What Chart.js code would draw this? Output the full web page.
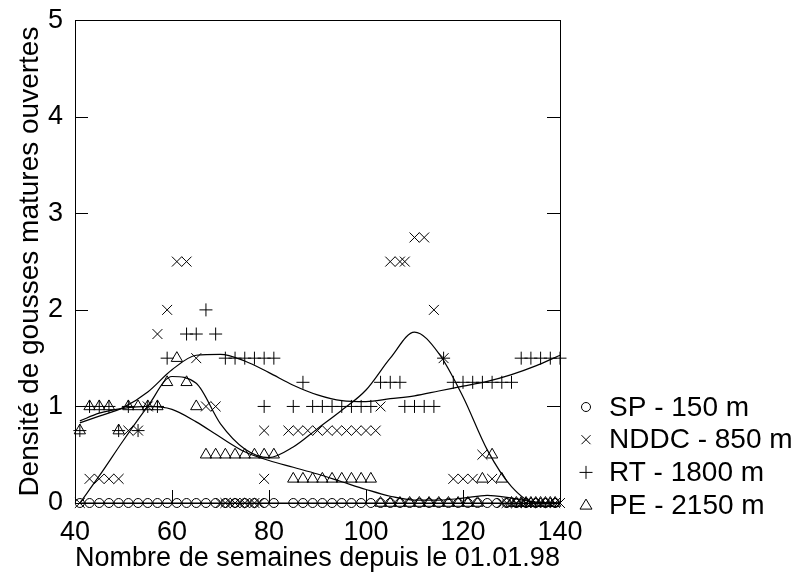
<!DOCTYPE html>
<html>
<head>
<meta charset="utf-8">
<script src="https://cdn.jsdelivr.net/npm/chart.js@4.4.1/dist/chart.umd.min.js"></script>
<style>
  html, body { margin: 0; padding: 0; background: #fff; }
  #wrap { width: 807px; height: 582px; }
</style>
</head>
<body>
<div id="wrap"><canvas id="chart" width="807" height="582"></canvas></div>
<script>
// observations (semaine, densité)
const spWeeks = [41, 43, 45, 47, 49, 51, 53, 55, 57, 59, 61, 63, 65, 67, 69, 71, 73, 75, 77, 79, 81,
  85, 87, 89, 91, 93, 95, 97, 99, 101, 103, 105, 107, 109, 111, 113, 115, 117, 119, 121, 123, 125,
  127, 129, 131, 133, 135, 137, 139];
const spValues = [0, 0, 0, 0, 0, 0, 0, 0, 0, 0, 0, 0, 0, 0, 0, 0, 0, 0, 0, 0, 0,
  0, 0, 0, 0, 0, 0, 0, 0, 0, 0, 0, 0, 0, 0, 0, 0, 0, 0, 0, 0, 0,
  0, 0, 0, 0, 0, 0, 0];

const nddcWeeks = [41, 43, 45, 47, 49, 51, 53, 55, 57, 59, 61, 63, 65, 67, 69,
  70, 71, 72, 73, 74, 75, 76, 77, 78, 79, 79,
  84, 86, 88, 90, 92, 94, 96, 98, 100, 102, 103, 105, 107, 108, 110, 112, 114, 116,
  118, 120, 122, 124, 126, 128, 129, 130, 131, 132, 133, 134, 135, 136, 137, 138, 139, 140];
const nddcValues = [0, 0.25, 0.25, 0.25, 0.25, 0.75, 0.75, 1, 1.75, 2, 2.5, 2.5, 1.5, 1, 1,
  0, 0, 0, 0, 0, 0, 0, 0, 0, 0.75, 0.25,
  0.75, 0.75, 0.75, 0.75, 0.75, 0.75, 0.75, 0.75, 0.75, 0.75, 1, 2.5, 2.5, 2.5, 2.75, 2.75, 2, 1.5,
  0.25, 0.25, 0.25, 0.5, 0.25, 0, 0, 0, 0, 0, 0, 0, 0, 0, 0, 0, 0, 0];

const rtWeeks = [41, 43, 45, 47, 49, 51, 53, 55, 57, 59, 63, 65, 67, 69,
  71, 73, 75, 77, 79, 81, 79, 85, 87, 89, 91, 93, 95, 97, 99, 101,
  103, 105, 107, 108, 110, 112, 114, 116,
  118, 120, 122, 124, 126, 128, 130, 132, 134, 136, 138, 140];
const rtValues = [0.75, 1, 1, 1, 0.75, 1, 0.75, 1, 1, 1.5, 1.75, 1.75, 2, 1.75,
  1.5, 1.5, 1.5, 1.5, 1.5, 1.5, 1, 1, 1.25, 1, 1, 1, 1, 1, 1, 1,
  1.25, 1.25, 1.25, 1, 1, 1, 1, 1.5,
  1.25, 1.25, 1.25, 1.25, 1.25, 1.25, 1.25, 1.5, 1.5, 1.5, 1.5, 1.5];

const peWeeks = [41, 43, 45, 47, 49, 51, 53, 55, 57, 59, 61, 63, 65,
  67, 69, 71, 73, 75, 77, 79, 81,
  85, 87, 89, 91, 93, 95, 97, 99, 101,
  103, 105, 107, 109, 111, 113, 115, 117, 119, 121, 123, 124, 126, 128,
  130, 131, 132, 133, 134, 135, 136, 137, 138, 139];
const peValues = [0.75, 1, 1, 1, 0.75, 1, 1, 1, 1, 1.25, 1.5, 1.25, 1,
  0.5, 0.5, 0.5, 0.5, 0.5, 0.5, 0.5, 0.5,
  0.25, 0.25, 0.25, 0.25, 0.25, 0.25, 0.25, 0.25, 0.25,
  0, 0, 0, 0, 0, 0, 0, 0, 0, 0, 0, 0.25, 0.5, 0.25,
  0, 0, 0, 0, 0, 0, 0, 0, 0, 0];

// courbes lissées
const fitWeeks = [41, 45, 50, 55, 60, 65, 70, 75, 80, 85, 90, 95, 100, 105, 110, 115, 120, 125, 130, 135, 140];
const spFit   = [0, 0, 0, 0, 0, 0, 0, 0, 0, 0, 0, 0, 0, 0, 0, 0, 0, 0, 0, 0, 0];
const nddcFit = [0, 0.28, 0.65, 1.0, 1.31, 1.24, 0.82, 0.56, 0.47, 0.58, 0.77, 0.96, 1.17, 1.5, 1.77, 1.55, 1.1, 0.55, 0.17, 0, 0];
const rtFit   = [0.83, 0.9, 0.99, 1.15, 1.38, 1.53, 1.54, 1.47, 1.35, 1.22, 1.12, 1.06, 1.05, 1.08, 1.11, 1.16, 1.21, 1.26, 1.33, 1.42, 1.53];
const peFit   = [0.85, 0.93, 0.98, 1.0, 0.97, 0.84, 0.68, 0.53, 0.44, 0.37, 0.3, 0.22, 0.14, 0.07, 0.03, 0.03, 0.05, 0.08, 0.05, 0.01, 0];

const legendLabels = ['SP - 150 m', 'NDDC - 850 m', 'RT - 1800 m', 'PE - 2150 m'];

const FONT = '"Liberation Sans", Arial, Helvetica, sans-serif';

function pts(weeks, values) {
  return weeks.map((w, i) => ({ x: w, y: values[i] }));
}

function markerSet(label, weeks, values, style, radius) {
  return {
    label: label,
    data: pts(weeks, values),
    showLine: false,
    pointStyle: style,
    pointRadius: radius,
    pointBorderColor: '#000',
    pointBackgroundColor: 'rgba(0,0,0,0)',
    pointBorderWidth: 1,
    clip: false
  };
}

function fitSet(values) {
  return {
    label: '',
    data: pts(fitWeeks, values),
    showLine: true,
    pointRadius: 0,
    borderColor: '#000',
    borderWidth: 1.2,
    cubicInterpolationMode: 'monotone',
    clip: false
  };
}

// cadre + graduations intérieures
const framePlugin = {
  id: 'frame',
  afterDraw(chart) {
    const { ctx, chartArea: a, scales } = chart;
    ctx.save();
    ctx.strokeStyle = '#000';
    ctx.lineWidth = 1;
    ctx.strokeRect(Math.round(a.left) + 0.5, Math.round(a.top) + 0.5,
      Math.round(a.right - a.left), Math.round(a.bottom - a.top));
    const len = 13;
    ctx.beginPath();
    scales.y.ticks.forEach(t => {
      const y = Math.round(scales.y.getPixelForValue(t.value)) + 0.5;
      ctx.moveTo(a.left, y); ctx.lineTo(a.left + len, y);
      ctx.moveTo(a.right, y); ctx.lineTo(a.right - len, y);
    });
    scales.x.ticks.forEach(t => {
      const x = Math.round(scales.x.getPixelForValue(t.value)) + 0.5;
      ctx.moveTo(x, a.bottom); ctx.lineTo(x, a.bottom - len);
    });
    ctx.stroke();
    ctx.restore();
  }
};

// légende à droite
const legendPlugin = {
  id: 'sideLegend',
  afterDraw(chart) {
    const { ctx } = chart;
    const x0 = 586, tx = 609, y0 = 407, step = 32.7;
    ctx.save();
    ctx.strokeStyle = '#000';
    ctx.fillStyle = '#000';
    ctx.lineWidth = 1;
    ctx.font = '28px ' + FONT;
    ctx.textBaseline = 'middle';
    ctx.textAlign = 'left';
    legendLabels.forEach((lab, i) => {
      const y = y0 + i * step;
      ctx.beginPath();
      if (i === 0) {
        ctx.arc(x0, y, 4.5, 0, Math.PI * 2);
      } else if (i === 1) {
        ctx.moveTo(x0 - 4.5, y - 4.5); ctx.lineTo(x0 + 4.5, y + 4.5);
        ctx.moveTo(x0 + 4.5, y - 4.5); ctx.lineTo(x0 - 4.5, y + 4.5);
      } else if (i === 2) {
        ctx.moveTo(x0 - 6.5, y); ctx.lineTo(x0 + 6.5, y);
        ctx.moveTo(x0, y - 6.5); ctx.lineTo(x0, y + 6.5);
      } else {
        ctx.moveTo(x0, y - 6); ctx.lineTo(x0 + 6, y + 4); ctx.lineTo(x0 - 6, y + 4); ctx.closePath();
      }
      ctx.stroke();
      ctx.fillText(lab, tx, y + 1);
    });
    ctx.restore();
  }
};

new Chart(document.getElementById('chart').getContext('2d'), {
  type: 'scatter',
  data: {
    datasets: [
      markerSet(legendLabels[0], spWeeks, spValues, 'circle', 4.5),
      markerSet(legendLabels[1], nddcWeeks, nddcValues, 'crossRot', 7),
      markerSet(legendLabels[2], rtWeeks, rtValues, 'cross', 6.5),
      markerSet(legendLabels[3], peWeeks, peValues, 'triangle', 6.5),
      fitSet(spFit),
      fitSet(nddcFit),
      fitSet(rtFit),
      fitSet(peFit)
    ]
  },
  options: {
    responsive: false,
    animation: false,
    events: [],
    layout: { padding: { left: 0, right: 247, top: 19, bottom: 0 } },
    scales: {
      x: {
        type: 'linear',
        min: 40,
        max: 140,
        grid: { display: false },
        border: { display: false },
        ticks: { stepSize: 20, color: '#000', padding: 5, font: { family: FONT, size: 27 } },
        title: {
          display: true,
          text: 'Nombre de semaines depuis le 01.01.98',
          color: '#000',
          font: { family: FONT, size: 27 },
          padding: { top: 0, bottom: 7 }
        },
        afterFit(scale) { scale.height = 79; }
      },
      y: {
        type: 'linear',
        min: 0,
        max: 5,
        grid: { display: false },
        border: { display: false },
        ticks: { stepSize: 1, color: '#000', padding: 4, font: { family: FONT, size: 27 } },
        title: {
          display: true,
          text: 'Densité de gousses matures ouvertes',
          color: '#000',
          font: { family: FONT, size: 28 },
          padding: { top: 13, bottom: 0 }
        },
        afterFit(scale) { scale.width = 75; }
      }
    },
    plugins: {
      legend: { display: false },
      tooltip: { enabled: false }
    }
  },
  plugins: [framePlugin, legendPlugin]
});
</script>
</body>
</html>
